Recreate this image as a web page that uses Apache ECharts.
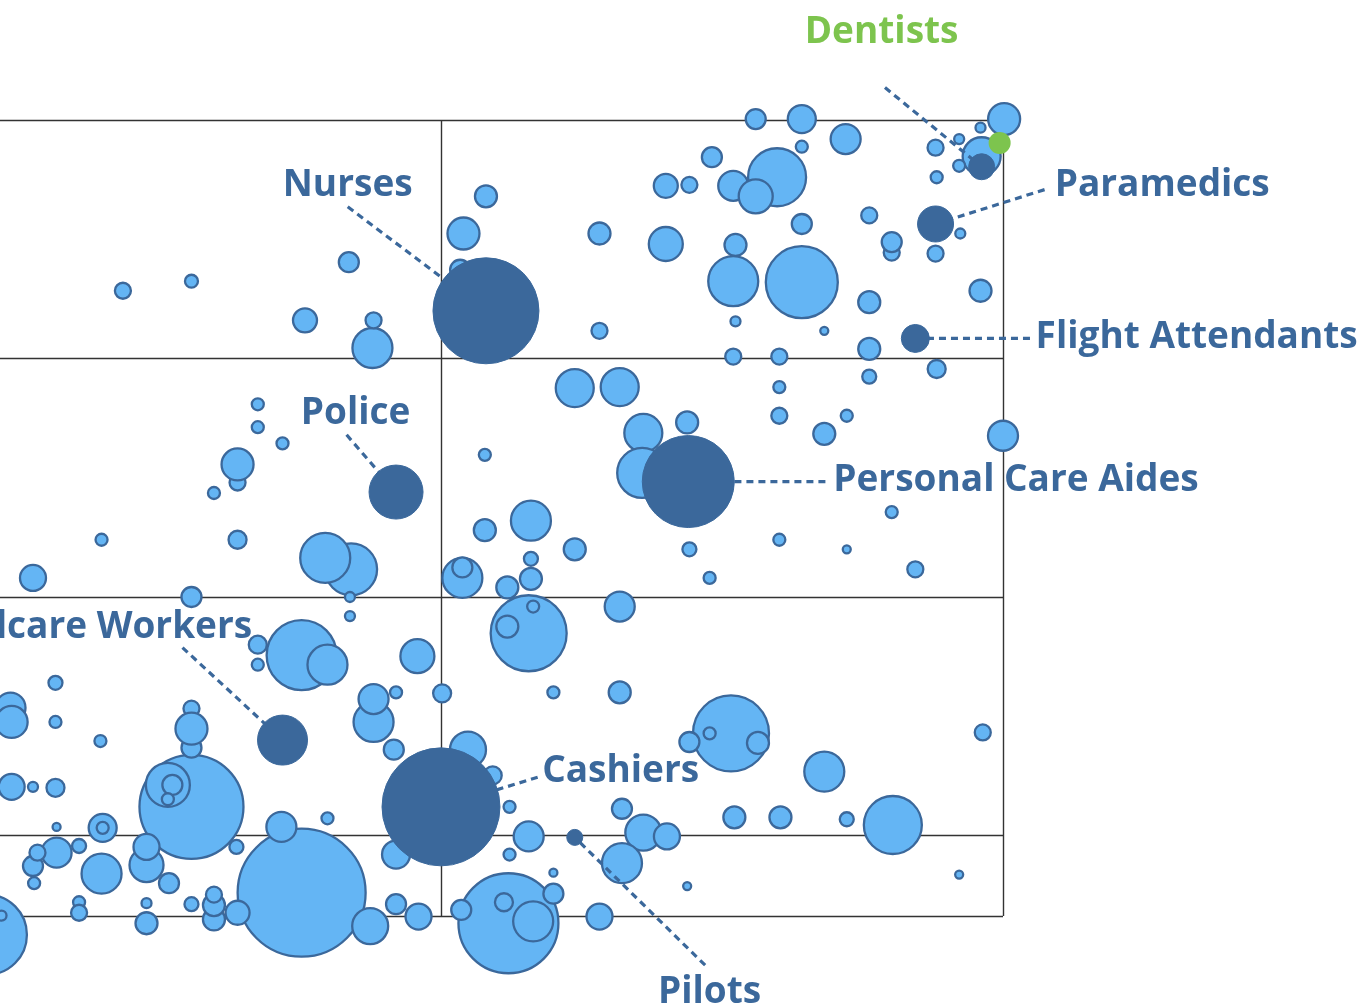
<!DOCTYPE html>
<html>
<head>
<meta charset="utf-8">
<style>
  html, body { margin: 0; padding: 0; background: #fff; }
  #chart-container { width: 1368px; height: 1007px; }
</style>
<script src="https://cdn.jsdelivr.net/npm/echarts@6/dist/echarts.min.js"></script>
</head>
<body>
<div id="chart-container"></div>
<script>
// x: physical proximity score (0-100), y: distance down from the top of the exposure scale
// third value: workers employed, thousands
var otherJobs = [
  // upper left
  [21.7, 17.9, 64], [27.8, 16.9, 42], [37.9, 21.0, 144], [41.8, 14.9, 100], [43.9, 23.9, 400], [44.0, 21.0, 64],
  // upper right
  [54.0, 8.0, 121], [52.0, 11.9, 256], [51.7, 15.7, 100], [64.1, 11.9, 121], [64.1, 22.1, 64], [70.0, 6.9, 144],
  [72.1, 6.8, 64], [70.0, 13.0, 289], [74.1, 3.9, 100], [78.0, -0.1, 100], [82.1, -0.1, 196], [82.1, 2.8, 36],
  [86.0, 2.0, 225], [79.9, 6.0, 841], [76.0, 6.9, 225], [78.0, 8.0, 289], [82.1, 10.9, 100], [76.2, 13.1, 121],
  [76.0, 16.9, 625], [82.1, 17.0, 1296], [88.1, 10.0, 64], [90.1, 13.9, 64], [90.1, 12.8, 100], [94.0, 14.0, 64],
  [96.2, 11.9, 25], [98.0, 17.9, 121], [88.1, 19.1, 121], [76.2, 21.1, 25], [84.1, 22.1, 16], [88.1, 24.0, 121],
  [76.0, 24.8, 64], [80.1, 24.8, 64], [94.1, 26.1, 81], [100.1, -0.1, 256], [98.0, 0.8, 25], [96.1, 2.0, 25],
  [94.0, 2.9, 64], [98.1, 3.8, 361], [96.1, 4.8, 36], [94.1, 6.0, 36],
  // middle left
  [33.7, 29.8, 36], [33.7, 32.2, 36], [35.9, 33.9, 36], [31.9, 38.0, 64], [31.9, 36.1, 256], [29.8, 39.1, 36],
  [19.8, 44.0, 36], [31.9, 44.0, 81], [13.7, 48.0, 169], [27.8, 50.0, 100], [42.0, 47.1, 676], [39.7, 45.9, 625],
  [41.9, 50.0, 25],
  // middle right
  [71.9, 31.7, 121], [61.9, 28.1, 361], [65.9, 28.0, 361], [68.0, 32.8, 361], [67.9, 37.0, 625], [53.9, 35.1, 36],
  [53.9, 43.0, 121], [58.0, 42.0, 400], [61.9, 45.0, 121], [58.0, 46.0, 49], [58.0, 48.1, 121], [55.9, 49.0, 121],
  [51.9, 48.0, 400], [51.9, 46.9, 100], [65.9, 51.0, 225], [88.1, 26.9, 49], [80.1, 28.0, 36], [80.1, 31.0, 64],
  [86.1, 31.0, 36], [84.1, 32.9, 121], [100.0, 33.1, 225], [90.1, 41.1, 36], [80.1, 44.0, 36], [86.1, 45.0, 16],
  [72.1, 45.0, 49], [73.9, 48.0, 36], [92.2, 47.1, 64],
  // lower left
  [41.9, 52.0, 25], [37.6, 56.1, 1225], [39.9, 57.1, 400], [33.7, 55.0, 81], [33.7, 57.1, 36], [15.7, 59.0, 49],
  [11.7, 61.6, 225], [11.8, 63.1, 256], [15.7, 63.1, 36], [19.7, 65.1, 36], [27.8, 72.0, 2704], [27.8, 65.8, 100],
  [27.8, 61.7, 64], [27.8, 63.8, 256], [25.7, 69.7, 484], [26.1, 69.7, 100], [25.7, 71.2, 36], [11.8, 69.9, 169],
  [13.7, 69.9, 25], [15.7, 70.0, 81], [15.8, 74.1, 16], [19.9, 74.2, 196], [19.9, 74.2, 36], [39.9, 73.2, 36],
  [47.9, 56.2, 289], [44.0, 63.1, 400], [44.0, 60.7, 225], [46.0, 60.0, 36], [50.1, 60.1, 81], [45.8, 66.0, 100],
  [52.4, 66.0, 324], [54.6, 68.7, 81], [56.1, 72.0, 36],
  // lower right
  [57.8, 53.8, 1444], [55.9, 53.1, 121], [58.2, 51.0, 36], [60.0, 60.0, 36], [65.9, 60.0, 121], [66.1, 72.2, 100],
  [75.8, 64.3, 1444], [73.9, 64.3, 36], [72.1, 65.2, 100], [78.2, 65.3, 121], [84.1, 68.3, 400], [98.2, 64.2, 64],
  [76.1, 73.1, 121], [80.2, 73.1, 121], [86.1, 73.3, 49], [90.2, 73.9, 841], [57.8, 75.1, 225], [68.0, 74.7, 324],
  [70.1, 75.1, 169],
  // bottom strip
  [9.6, 85.4, 1600], [10.9, 83.4, 25], [13.7, 78.2, 100], [15.8, 76.8, 225], [14.1, 76.8, 64], [13.8, 80.0, 36],
  [17.8, 76.1, 49], [19.8, 79.0, 400], [23.8, 78.1, 289], [23.8, 76.2, 169], [25.8, 80.0, 100], [31.8, 76.2, 49],
  [37.6, 81.0, 4096], [35.8, 74.1, 225], [17.8, 82.0, 36], [17.8, 83.1, 64], [23.8, 82.1, 25], [23.8, 84.2, 121],
  [27.8, 82.2, 49], [29.8, 83.8, 121], [29.8, 82.3, 121], [29.8, 81.2, 64], [31.9, 83.1, 144], [46.0, 77.0, 196],
  [46.0, 82.2, 100], [48.0, 83.5, 169], [43.7, 84.5, 324], [56.1, 77.0, 36], [60.0, 78.9, 16], [56.0, 84.2, 2500],
  [60.0, 81.1, 100], [55.6, 82.0, 81], [58.2, 84.0, 400], [51.8, 82.8, 100], [66.1, 77.9, 400], [64.1, 83.5, 169],
  [71.9, 80.3, 16], [96.1, 79.1, 16]
];

// highlighted occupations (dark bubbles)
var keyX = [54.0, 46.0, 35.9, 94.0, 92.2, 72.0, 50.0, 61.9, 98.1];
var keyY = [20.0, 39.0, 65.0, 10.9, 22.9, 37.9, 72.0, 75.2, 4.9];
var keyEmployment = [2809, 729, 625, 324, 196, 2116, 3481, 64, 169];

// green point
var dentistPoint = [99.7, 2.4, 121];

// annotation text, where it sits and where its dashed leader begins
var labelNames = ['Nurses', 'Police', 'Childcare Workers', 'Paramedics', 'Flight Attendants',
  'Personal Care Aides', 'Cashiers', 'Pilots', 'Dentists'];
var labelAt = [[41.7, 6.85], [42.4, 30.75], [33.2, 53.15], [104.6, 6.85], [102.9, 22.75],
  [84.9, 37.75], [59.0, 68.25], [73.9, 91.45], [89.2, -9.15]];
var leaderFrom = [[41.7, 9.1], [41.6, 33.0], [27.0, 55.3], [103.7, 7.3], [102.4, 22.9],
  [84.2, 37.9], [58.6, 68.9], [73.5, 88.6], [89.5, -3.4]];
var labelAlign = ['center', 'center', 'right', 'left', 'left', 'left', 'left', 'center', 'center'];

var LIGHT = '#64b5f4';
var DARK = '#3b689b';
var GREEN = '#7dc44e';

function bubbleSize(d) {
  return 2 * Math.sqrt(d[2]);
}

var keyData = keyX.map(function (x, i) { return [x, keyY[i], keyEmployment[i]]; });
var annotationData = labelNames.map(function (n, i) {
  return [labelAt[i][0], labelAt[i][1], leaderFrom[i][0], leaderFrom[i][1], keyX[i], keyY[i]];
});

var dom = document.getElementById('chart-container');
var myChart = echarts.init(dom, null, { renderer: 'canvas' });

var option = {
  animation: false,
  grid: { left: -121, right: 365, top: 120, bottom: 91, outerBoundsMode: 'none', containLabel: false },
  xAxis: {
    type: 'value', min: 0, max: 100, interval: 50,
    axisLine: { show: false }, axisTick: { show: false }, axisLabel: { show: false },
    splitLine: { show: true, lineStyle: { color: '#333', width: 1.4 } }
  },
  yAxis: {
    type: 'value', inverse: true, min: 0, max: 83.44, interval: 25,
    axisLine: { show: false }, axisTick: { show: false }, axisLabel: { show: false },
    splitLine: { show: true, lineStyle: { color: '#333', width: 1.4 } }
  },
  series: [
    {
      name: 'Other occupations',
      type: 'scatter',
      z: 2,
      clip: false,
      data: otherJobs,
      symbolSize: bubbleSize,
      itemStyle: { color: LIGHT, borderColor: DARK, borderWidth: 2.3, opacity: 1 }
    },
    {
      name: 'Annotations',
      type: 'custom',
      z: 3,
      clip: false,
      data: annotationData,
      renderItem: function (params, api) {
        var i = params.dataIndex;
        var p = api.coord([api.value(0), api.value(1)]);
        var a = api.coord([api.value(2), api.value(3)]);
        var b = api.coord([api.value(4), api.value(5)]);
        return {
          type: 'group',
          children: [
            {
              type: 'line',
              shape: { x1: a[0], y1: a[1], x2: b[0], y2: b[1] },
              style: { stroke: DARK, lineWidth: 3.2, lineDash: [7, 5] }
            },
            {
              type: 'text',
              z2: 10,
              style: {
                text: labelNames[i], x: p[0], y: p[1],
                fill: labelNames[i] === 'Dentists' ? GREEN : DARK,
                fontFamily: 'Open Sans', fontWeight: 'bold', fontSize: 37,
                align: labelAlign[i], verticalAlign: 'middle'
              }
            }
          ]
        };
      }
    },
    {
      name: 'Highlighted',
      type: 'scatter',
      z: 4,
      clip: false,
      data: keyData,
      symbolSize: bubbleSize,
      itemStyle: { color: DARK, borderColor: DARK, borderWidth: 1, opacity: 1 }
    },
    {
      name: 'Dentists',
      type: 'scatter',
      z: 5,
      clip: false,
      data: [dentistPoint],
      symbolSize: bubbleSize,
      itemStyle: { color: GREEN, opacity: 1 }
    }
  ]
};

myChart.setOption(option);
window.addEventListener('resize', myChart.resize);
</script>
</body>
</html>
